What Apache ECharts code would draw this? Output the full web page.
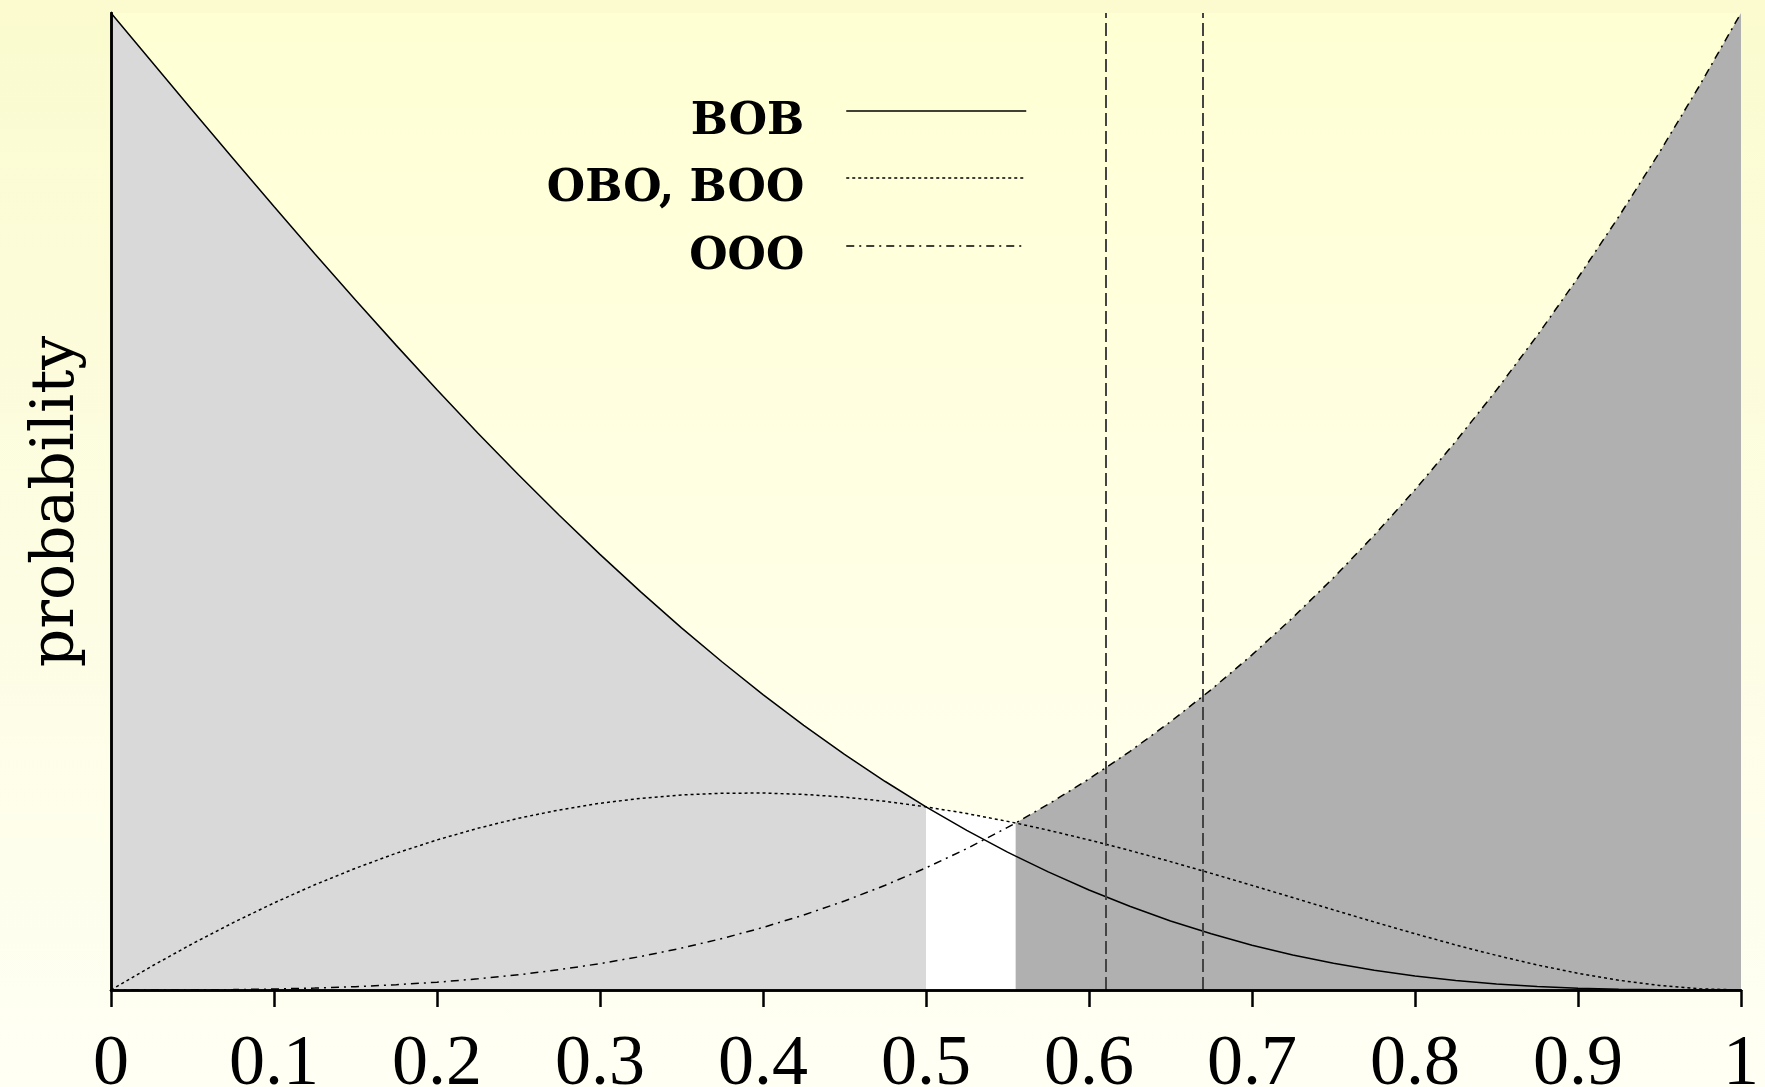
<!DOCTYPE html>
<html>
<head>
<meta charset="utf-8">
<script src="https://cdn.jsdelivr.net/npm/echarts@6/dist/echarts.min.js"></script>
<style>
  html, body { margin: 0; padding: 0; }
  body { background: linear-gradient(180deg, #fbfbcf 0%, #fdfde4 55%, #fffff4 100%); }
  #chart { width: 1765px; height: 1087px; }
</style>
</head>
<body>
<div id="chart"></div>
<script>
// x positions (p) at which the curves were read
const xs = [0, 0.025, 0.05, 0.075, 0.1, 0.125, 0.15, 0.175, 0.2, 0.225, 0.25, 0.275, 0.3, 0.325, 0.35, 0.375, 0.4, 0.425, 0.45, 0.475, 0.5, 0.525, 0.55, 0.555, 0.575, 0.6, 0.625, 0.65, 0.675, 0.7, 0.725, 0.75, 0.775, 0.8, 0.825, 0.85, 0.875, 0.9, 0.925, 0.95, 0.975, 1];
// BOB (solid)
const bob = [1, 0.9500, 0.9002, 0.8508, 0.8019, 0.7537, 0.7062, 0.6598, 0.6144, 0.5702, 0.5273, 0.4859, 0.4459, 0.4075, 0.3707, 0.3357, 0.3024, 0.2709, 0.2412, 0.2134, 0.1875, 0.1634, 0.1412, 0.1370, 0.1209, 0.1024, 0.0857, 0.0707, 0.0575, 0.0459, 0.0359, 0.0273, 0.0202, 0.0144, 0.0098, 0.0062, 0.0037, 0.0019, 0.0008, 0.0002, 0.0000, 0];
// OBO, BOO (dotted)
const obo = [0, 0.0244, 0.0474, 0.0690, 0.0891, 0.1077, 0.1246, 0.1400, 0.1536, 0.1655, 0.1758, 0.1843, 0.1911, 0.1962, 0.1996, 0.2014, 0.2016, 0.2002, 0.1974, 0.1931, 0.1875, 0.1806, 0.1726, 0.1709, 0.1636, 0.1536, 0.1428, 0.1314, 0.1194, 0.1071, 0.0946, 0.0820, 0.0696, 0.0576, 0.0461, 0.0354, 0.0256, 0.0171, 0.0100, 0.0046, 0.0012, 0];
// OOO (dash-dot)
const ooo = [0, 0.0000, 0.0001, 0.0004, 0.0010, 0.0020, 0.0034, 0.0054, 0.0080, 0.0114, 0.0156, 0.0208, 0.0270, 0.0343, 0.0429, 0.0527, 0.0640, 0.0768, 0.0911, 0.1072, 0.1250, 0.1447, 0.1664, 0.1709, 0.1901, 0.2160, 0.2441, 0.2746, 0.3075, 0.3430, 0.3811, 0.4219, 0.4655, 0.5120, 0.5615, 0.6141, 0.6699, 0.7290, 0.7915, 0.8574, 0.9269, 1];

// shaded regions: [from, to] and which curve bounds them
const regionBounds = [0, 0.5, 0.555, 1];
const regionColors = ['#d9d9d9', '#ffffff', '#b0b0b0'];
// vertical dashed markers
const verticalMarks = [0.6147, 0.6667];
// tick labels for x axis
const xTicks = [0, 0.1, 0.2, 0.3, 0.4, 0.5, 0.6, 0.7, 0.8, 0.9, 1];

const names = ['BOB', 'OBO, BOO', 'OOO'];
const curves = [bob, obo, ooo];
const dashes = ['solid', [3, 3], [8, 5, 2, 5]];

const toPairs = (arr, lo, hi) => xs.map((x, i) => [x, arr[i]]).filter(d => d[0] >= lo - 1e-9 && d[0] <= hi + 1e-9);

const fillSeries = regionColors.map((c, k) => ({
  name: 'fill' + k,
  type: 'line',
  data: toPairs(curves[k], regionBounds[k], regionBounds[k + 1]),
  symbol: 'none',
  lineStyle: { width: 0 },
  areaStyle: { color: c, opacity: 1 },
  z: 1,
  silent: true
}));

const lineSeries = names.map((n, k) => ({
  name: n,
  type: 'line',
  data: toPairs(curves[k], 0, 1),
  symbol: 'none',
  itemStyle: { color: '#000' },
  lineStyle: { color: '#000', width: 1.5, type: dashes[k] },
  z: 3,
  silent: true
}));
lineSeries[0].markLine = {
  silent: true,
  symbol: ['none', 'none'],
  label: { show: false },
  lineStyle: { color: '#444', width: 2, type: [13, 5] },
  data: verticalMarks.map(v => ({ xAxis: v }))
};

const legendLineY = [111, 178, 246];
const legendFont = { fontFamily: 'DejaVu Serif', fontWeight: 'bold', fontSize: 44, color: '#000' };
const legends = names.map((n, k) => ({
  data: [n],
  right: 738,
  top: legendLineY[k] - 32,
  align: 'right',
  padding: 0,
  itemWidth: 180,
  itemHeight: 80,
  selectedMode: false,
  itemStyle: { opacity: 0 },
  lineStyle: { width: 1.5 },
  formatter: '{s| }\n{n|{name}}',
  textStyle: Object.assign({}, legendFont, {
    padding: [0, 37, 0, 0],
    rich: { s: { fontSize: 1, lineHeight: 23 }, n: Object.assign({}, legendFont, { lineHeight: 50 }) }
  })
}));

const axisLine = { show: true, lineStyle: { color: '#000', width: 2.5 } };

const option = {
  animation: false,
  backgroundColor: 'transparent',
  grid: {
    left: 111, right: 24, top: 13, bottom: 97,
    containLabel: false, outerBoundsMode: 'none',
    show: true, borderWidth: 0,
    backgroundColor: { type: 'linear', x: 0, y: 0, x2: 0, y2: 1, colorStops: [
      { offset: 0, color: '#ffffd4' }, { offset: 0.6, color: '#ffffe6' }, { offset: 1, color: '#fffff2' } ] }
  },
  legend: legends,
  xAxis: [{
    type: 'value', min: xTicks[0], max: xTicks[xTicks.length - 1], interval: 0.1, position: 'bottom', z: 10,
    axisLine: axisLine, axisTick: { show: false }, splitLine: { show: false },
    axisLabel: { fontFamily: 'Liberation Serif', fontSize: 72, color: '#000', margin: 39 }
  }, {
    type: 'value', min: xTicks[0], max: xTicks[xTicks.length - 1], interval: 0.1, position: 'top', z: 10,
    axisLine: axisLine,
    axisTick: { show: true, inside: true, length: 17, lineStyle: { color: '#000', width: 2.5 } },
    axisLabel: { show: false }, splitLine: { show: false }
  }],
  yAxis: [{
    type: 'value', min: 0, max: 1, position: 'left', z: 10,
    axisLine: axisLine, axisTick: { show: false }, axisLabel: { show: false }, splitLine: { show: false },
    name: 'probability', nameLocation: 'middle', nameGap: 24,
    nameTextStyle: { fontFamily: 'DejaVu Serif', fontSize: 60, color: '#000' }
  }, {
    type: 'value', min: 0, max: 1, position: 'right', z: 10,
    axisLine: axisLine, axisTick: { show: false }, axisLabel: { show: false }, splitLine: { show: false }
  }],
  series: fillSeries.concat(lineSeries)
};

const chart = echarts.init(document.getElementById('chart'), null, { renderer: 'canvas' });
chart.setOption(option);
</script>
</body>
</html>
